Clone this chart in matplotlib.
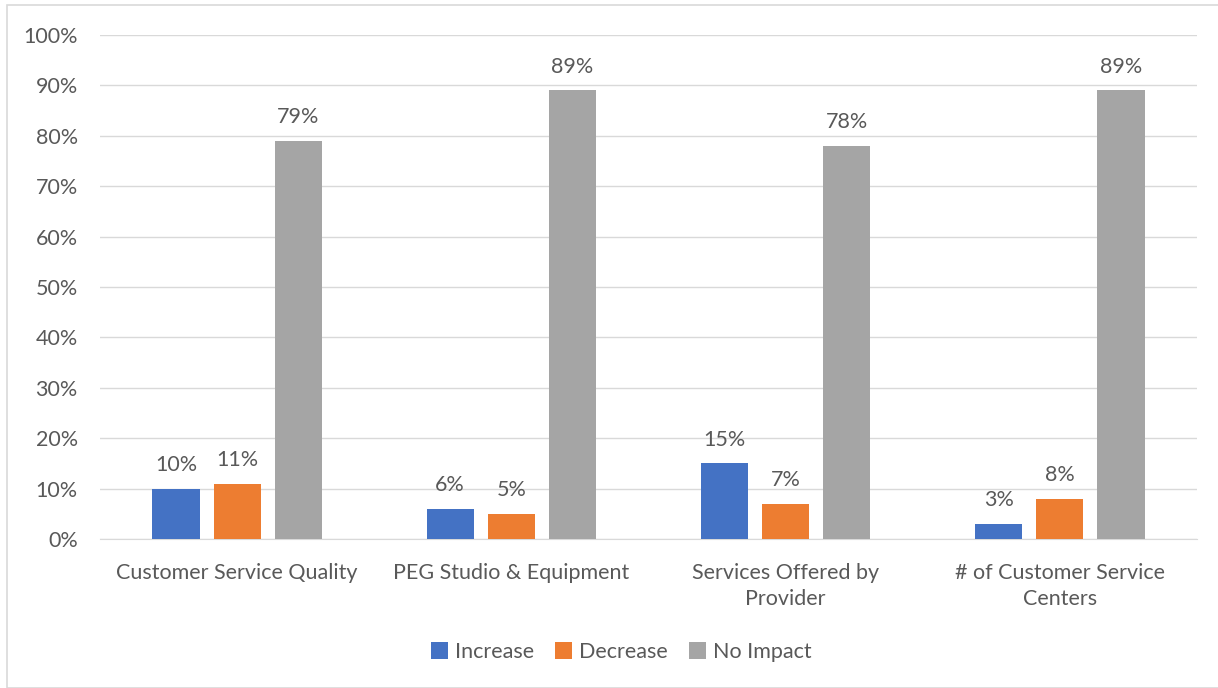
import numpy as np
import matplotlib.pyplot as plt
from matplotlib.patches import Rectangle

# Data
categories = ['Customer Service Quality', 'PEG Studio & Equipment',
              'Services Offered by\nProvider', '# of Customer Service\nCenters']
increase = [10, 6, 15, 3]
decrease = [11, 5, 7, 8]
no_impact = [79, 89, 78, 89]
series_names = ['Increase', 'Decrease', 'No Impact']
colors = ['#4472C4', '#ED7D31', '#A5A5A5']

plt.rcParams['font.family'] = ['Lato', 'DejaVu Sans']
text_color = '#595959'
fs = 15.5

fig = plt.figure(figsize=(12.18, 6.88), dpi=100)
ax = fig.add_axes([100 / 1218, 1 - 539 / 688, 1097 / 1218, 504 / 688])

# outer chart border
fig.patches.append(Rectangle((7 / 1218, 0), 1.2, 1 - 5 / 688, transform=fig.transFigure,
                             fill=False, edgecolor='#D9D9D9', linewidth=1.2))

x = np.arange(len(categories))
width = 0.172
step = 0.223
for i, (vals, name, c) in enumerate(zip([increase, decrease, no_impact], series_names, colors)):
    bars = ax.bar(x + (i - 1) * step, vals, width, color=c, label=name, zorder=3)
    ax.bar_label(bars, labels=[f'{v}%' for v in vals], padding=10, fontsize=fs, color=text_color)

ax.set_xlim(-0.5, len(categories) - 0.5)
ax.set_ylim(0, 100)
ax.set_yticks(np.arange(0, 101, 10))
ax.set_yticklabels([f'{v}%' for v in range(0, 101, 10)])
ax.set_xticks(x)
ax.set_xticklabels(categories, linespacing=1.4)
ax.tick_params(axis='both', length=0, labelsize=fs, labelcolor=text_color)
ax.tick_params(axis='x', pad=17)
ax.tick_params(axis='y', pad=16)
ax.grid(axis='y', color='#D9D9D9', linewidth=1, zorder=0)
for s in ['top', 'right', 'left']:
    ax.spines[s].set_visible(False)
ax.spines['bottom'].set_color('#D9D9D9')

fig.legend(loc='center', bbox_to_anchor=(0.51, 1 - 652 / 688), ncol=3, frameon=False,
           fontsize=fs, labelcolor=text_color, handlelength=0.8, handleheight=0.8,
           handletextpad=0.3, columnspacing=1.0)

fig.savefig('out.png', dpi=100)
